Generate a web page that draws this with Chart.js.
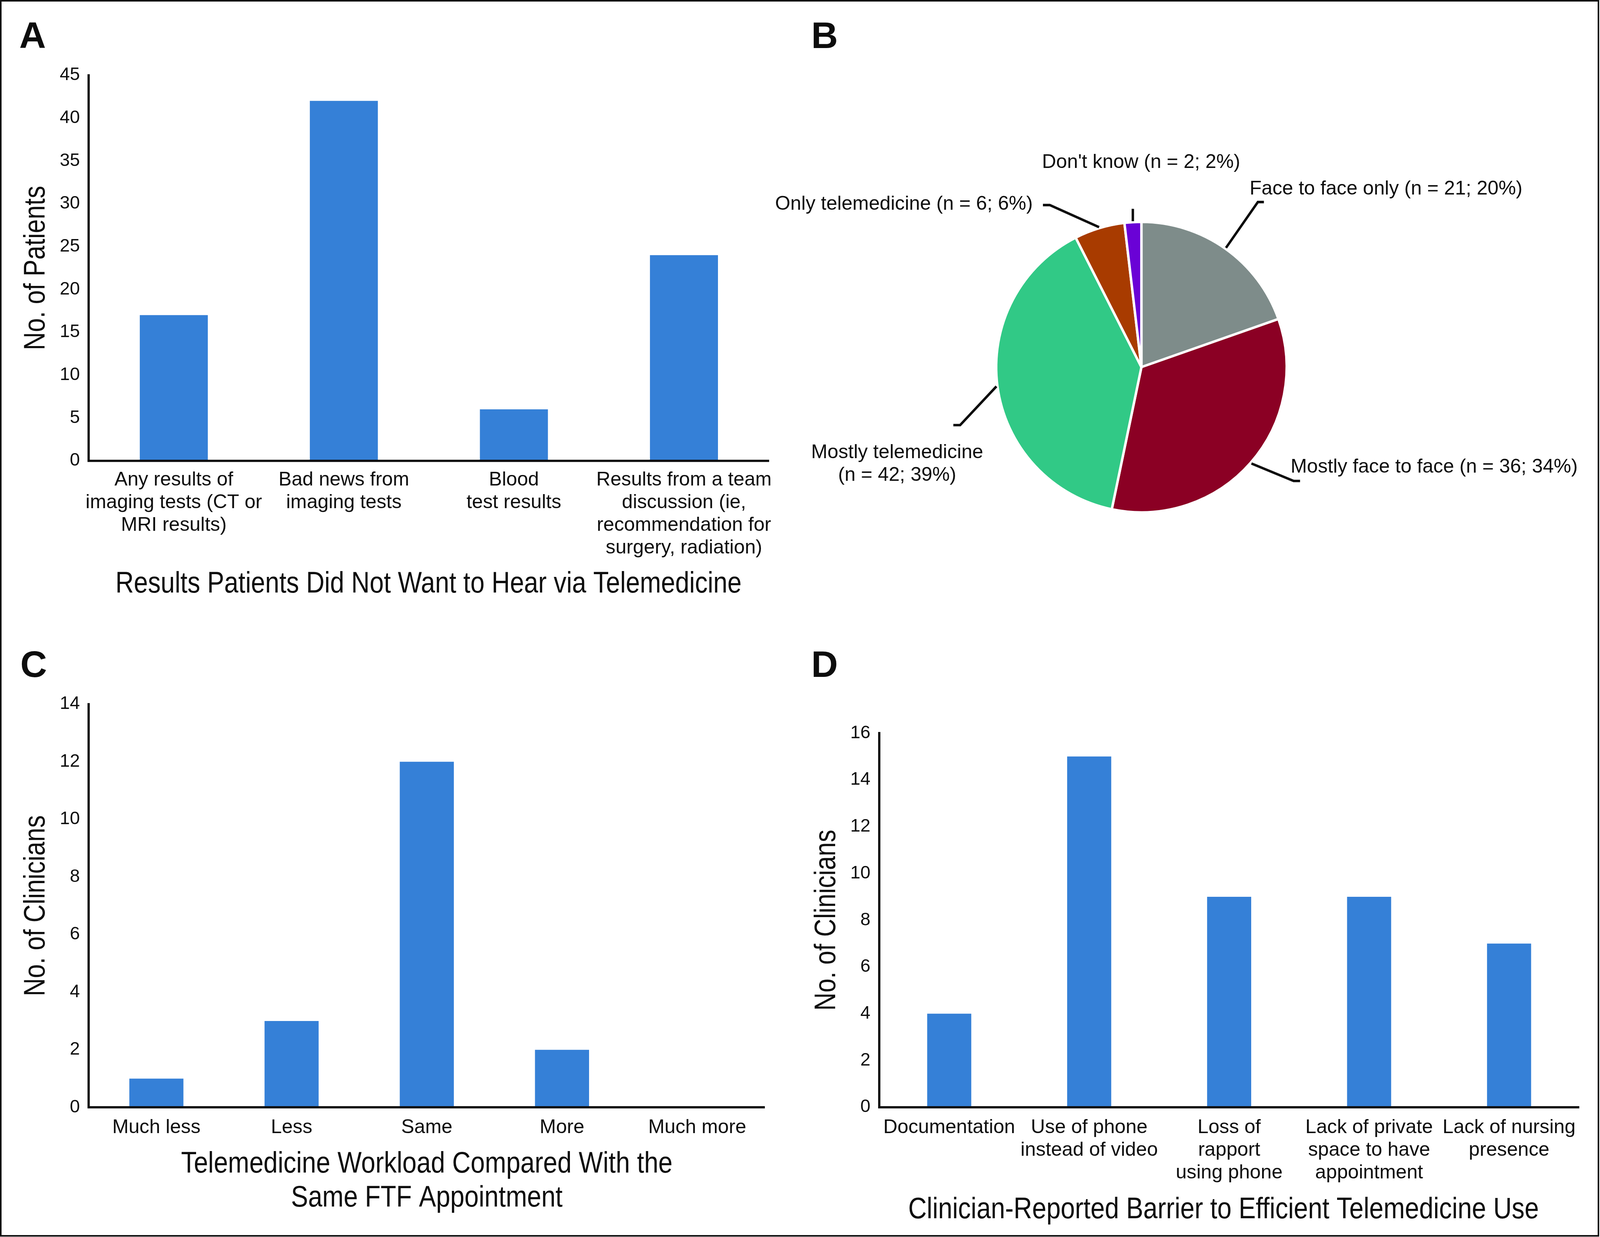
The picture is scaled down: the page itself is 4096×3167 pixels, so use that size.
<!DOCTYPE html>
<html>
<head>
<meta charset="utf-8">
<script src="https://cdn.jsdelivr.net/npm/chart.js@4.4.1/dist/chart.umd.min.js"></script>
<style>
html,body{margin:0;padding:0;background:#fff;}
body{width:4096px;height:3167px;position:relative;overflow:hidden;}
canvas{position:absolute;}
#frame{position:absolute;left:0;top:0;box-sizing:border-box;border-style:solid;border-color:#111;pointer-events:none;}
</style>
</head>
<body>
<div id="frame"></div>
<script>
// ---------------- DATA ----------------
// Panel A
const catsA = [["Any results of","imaging tests (CT or","MRI results)"],["Bad news from","imaging tests"],["Blood","test results"],["Results from a team","discussion (ie,","recommendation for","surgery, radiation)"]];
const patientsA = [17, 42, 6, 24];
const yTicksA = [0, 5, 10, 15, 20, 25, 30, 35, 40, 45];
const xTitleA = ["Results Patients Did Not Want to Hear via Telemedicine"];
const yTitleA = "No. of Patients";
// Panel B
const optionsB = ["Face to face only", "Mostly face to face", "Mostly telemedicine", "Only telemedicine", "Don't know"];
const countsB = [21, 36, 42, 6, 2];
const coloursB = ["#7e8c8a", "#8b0024", "#31c986", "#a83b00", "#6a02d6"];
// Panel C
const catsC = ["Much less", "Less", "Same", "More", "Much more"];
const cliniciansC = [1, 3, 12, 2, 0];
const yTicksC = [0, 2, 4, 6, 8, 10, 12, 14];
const xTitleC = ["Telemedicine Workload Compared With the", "Same FTF Appointment"];
const yTitleC = "No. of Clinicians";
// Panel D
const catsD = ["Documentation", ["Use of phone","instead of video"], ["Loss of","rapport","using phone"], ["Lack of private","space to have","appointment"], ["Lack of nursing","presence"]];
const cliniciansD = [4, 15, 9, 9, 7];
const yTicksD = [0, 2, 4, 6, 8, 10, 12, 14, 16];
const xTitleD = ["Clinician-Reported Barrier to Efficient Telemedicine Use"];
const yTitleD = "No. of Clinicians";

// ---------------- STYLE ----------------
const S = 0.965;
const BLUE = "#3580d7";
const INK = "#0d0d0d";
const REG = '"Liberation Sans", Arial, Helvetica, sans-serif';
const TITLE_SIZE = 78;   // reference px; text is condensed horizontally to the reference width

const frame = document.getElementById('frame');
frame.style.width = (4243 * S) + 'px';
frame.style.height = (3281 * S) + 'px';
frame.style.borderWidth = (4.5 * S) + 'px';

function addCanvas(left, top, w, h) {
  const cv = document.createElement('canvas');
  cv.width = w; cv.height = h;
  cv.style.left = left + 'px'; cv.style.top = top + 'px';
  document.body.insertBefore(cv, frame);
  return cv;
}

const letterPlugin = {
  id: 'panelLetter',
  afterDraw(chart, args, o) {
    const c = chart.ctx;
    c.save();
    c.font = `bold ${98 * S}px ${REG}`;
    c.fillStyle = INK;
    c.textAlign = 'left';
    c.textBaseline = 'alphabetic';
    c.fillText(o.text, o.x, o.y);
    c.restore();
  }
};

// Axis titles in a condensed setting (regular face squeezed horizontally)
const condTitlesPlugin = {
  id: 'condTitles',
  afterDraw(chart, args, o) {
    const c = chart.ctx, a = chart.chartArea;
    c.save();
    c.fillStyle = INK;
    c.font = `${TITLE_SIZE * S}px ${REG}`;
    c.textAlign = 'center';
    c.textBaseline = 'alphabetic';
    const cap = c.measureText('H').actualBoundingBoxAscent;
    // x title
    const sx = o.xWidth / c.measureText(o.xLines[0]).width;
    const cx = (a.left + a.right) / 2 + o.xShift;
    o.xLines.forEach((t, k) => {
      c.save();
      c.translate(cx, o.xCapMid + cap / 2 + k * o.xLH);
      c.scale(sx, 1);
      c.fillText(t, 0, 0);
      c.restore();
    });
    // y title
    const sy = o.yLength / c.measureText(o.yText).width;
    c.save();
    c.translate(o.yBase, (a.top + a.bottom) / 2);
    c.rotate(-Math.PI / 2);
    c.scale(sy, 1);
    c.fillText(o.yText, 0, 0);
    c.restore();
    c.restore();
  }
};

function makeBar(p) {
  const OX = Math.round(p.origin[0] * S), OY = Math.round(p.origin[1] * S);
  const W = Math.round(p.size[0] * S), H = Math.round(p.size[1] * S);
  const X = a => a * S - OX, Y = a => a * S - OY;
  const cv = addCanvas(OX, OY, W, H);
  const L = X(p.area.left), R = X(p.area.right), T = Y(p.area.top), B = Y(p.area.bottom);
  new Chart(cv, {
    type: 'bar',
    data: {
      labels: p.labels,
      datasets: [{ data: p.values, backgroundColor: BLUE, borderWidth: 0, barPercentage: p.barPct, categoryPercentage: 1 }]
    },
    options: {
      responsive: false, animation: false, devicePixelRatio: 1, events: [],
      layout: { padding: { left: 0, top: T, right: W - R, bottom: 0 } },
      plugins: {
        legend: { display: false }, tooltip: { enabled: false },
        panelLetter: { text: p.letter, x: X(p.letterPos[0]), y: Y(p.letterPos[1]) },
        condTitles: {
          xLines: p.xTitle, xWidth: p.xTitleW * S, xCapMid: Y(p.xTitleCap), xLH: p.xTitleLH * S, xShift: p.xShift * S,
          yText: p.yTitle, yLength: p.yTitleW * S, yBase: X(p.yTitleBase)
        }
      },
      scales: {
        x: {
          type: 'category', offset: true,
          grid: { display: false, drawTicks: false },
          border: { display: true, color: INK, width: 6 * S, z: 1 },
          ticks: { color: INK, font: { family: REG, size: 52 * S, lineHeight: 60 / 52 }, padding: (p.labelMid - p.area.bottom - 30) * S, maxRotation: 0, minRotation: 0, autoSkip: false },
          title: { display: false },
          afterFit: sc => { sc.height = H - B; }
        },
        y: {
          type: 'linear', min: p.yTicks[0], max: p.yTicks[p.yTicks.length - 1],
          grid: { display: false, drawTicks: false },
          border: { display: true, color: INK, width: 6 * S, z: 1 },
          ticks: { color: INK, font: { family: REG, size: 48 * S }, padding: 23.5 * S, autoSkip: false },
          afterBuildTicks: sc => { sc.ticks = p.yTicks.map(v => ({ value: v })); },
          title: { display: false },
          afterFit: sc => { sc.width = L; }
        }
      }
    },
    plugins: [letterPlugin, condTitlesPlugin]
  });
}

// Pie label layout: elbow in polar coords around pie centre (deg clockwise from 12 o'clock, distance),
// horizontal hook length, text offset from elbow, alignment
const pieLabelLayout = [
  { elbow: [35.2, 536], hook: 16, text: [-22, -20], align: 'left' },
  { elbow: [126.8, 504.4], hook: 17, text: [-8, -22], align: 'left' },
  { elbow: [252.25, 505], hook: -18, text: [-167, 88], align: 'center', split: true },
  { elbow: [330.5, 494], hook: -18, text: [-45, 12], align: 'right' },
  { elbow: [356.9, 420.6], hook: 0, text: [22, -108], align: 'center' }
];

const pieLabelsPlugin = {
  id: 'pieLabels',
  afterDatasetsDraw(chart) {
    const ctx = chart.ctx;
    const meta = chart.getDatasetMeta(0);
    const ds = chart.data.datasets[0];
    const total = ds.data.reduce((a, b) => a + b, 0);
    ctx.save();
    ctx.strokeStyle = INK; ctx.fillStyle = INK;
    ctx.lineWidth = 6.5 * S; ctx.lineCap = 'butt'; ctx.lineJoin = 'miter';
    ctx.font = `${52 * S}px ${REG}`;
    ctx.textBaseline = 'alphabetic';
    meta.data.forEach((arc, i) => {
      const pr = arc.getProps(['x', 'y', 'startAngle', 'endAngle', 'outerRadius'], true);
      const mid = (pr.startAngle + pr.endAngle) / 2;
      const rv = pr.outerRadius - ds.borderWidth / 2;
      const r0 = rv + 6 * S;
      const sx = pr.x + r0 * Math.cos(mid), sy = pr.y + r0 * Math.sin(mid);
      const Lo = pieLabelLayout[i];
      const ea = (Lo.elbow[0] - 90) * Math.PI / 180;
      const ex = pr.x + Lo.elbow[1] * S * Math.cos(ea), ey = pr.y + Lo.elbow[1] * S * Math.sin(ea);
      ctx.beginPath();
      ctx.moveTo(sx, sy); ctx.lineTo(ex, ey);
      if (Lo.hook) ctx.lineTo(ex + Lo.hook * S, ey);
      ctx.stroke();
      const pct = Math.round(ds.data[i] / total * 100);
      const stat = `(n = ${ds.data[i]}; ${pct}%)`;
      const lines = Lo.split ? [chart.data.labels[i], stat] : [chart.data.labels[i] + ' ' + stat];
      ctx.textAlign = Lo.align;
      lines.forEach((t, k) => ctx.fillText(t, ex + Lo.text[0] * S, ey + (Lo.text[1] + k * 60) * S));
    });
    ctx.restore();
  }
};

function makePie() {
  const origin = [1900, 0], size = [2343, 1640];
  const OX = Math.round(origin[0] * S), OY = Math.round(origin[1] * S);
  const W = Math.round(size[0] * S), H = Math.round(size[1] * S);
  const X = a => a * S - OX, Y = a => a * S - OY;
  const cv = addCanvas(OX, OY, W, H);
  const cx = X(3028), cy = Y(974), half = 500 * S;
  const bw = 6.5 * S;
  new Chart(cv, {
    type: 'pie',
    data: {
      labels: optionsB,
      datasets: [{ data: countsB, backgroundColor: coloursB, borderColor: '#ffffff', borderWidth: bw,
                   radius: 382 * S + bw / 2, hoverOffset: 0, offset: 0 }]
    },
    options: {
      responsive: false, animation: false, devicePixelRatio: 1, events: [],
      rotation: 0, circumference: 360,
      layout: { padding: { left: cx - half, right: W - (cx + half), top: cy - half, bottom: H - (cy + half) } },
      plugins: {
        legend: { display: false }, tooltip: { enabled: false },
        panelLetter: { text: 'B', x: X(2152), y: Y(127) }
      }
    },
    plugins: [letterPlugin, pieLabelsPlugin]
  });
}

makeBar({
  origin: [0, 0], size: [2121, 1640],
  area: { left: 235.5, right: 2040, top: 199.5, bottom: 1222.5 },
  labels: catsA, values: patientsA, yTicks: yTicksA, barPct: 0.4,
  labelMid: 1274, xTitle: xTitleA, xTitleW: 1661, xTitleCap: 1545, xTitleLH: 0, xShift: -1,
  yTitle: yTitleA, yTitleW: 436, yTitleBase: 118, letter: 'A', letterPos: [51, 127]
});
makePie();
makeBar({
  origin: [0, 1640], size: [2121, 1641],
  area: { left: 235.5, right: 2029, top: 1868, bottom: 2938 },
  labels: catsC, values: cliniciansC, yTicks: yTicksC, barPct: 0.4,
  labelMid: 2992, xTitle: xTitleC, xTitleW: 1304, xTitleCap: 3083, xTitleLH: 91, xShift: 0,
  yTitle: yTitleC, yTitleW: 480, yTitleBase: 118, letter: 'C', letterPos: [54, 1796]
});
makeBar({
  origin: [2121, 1640], size: [2122, 1641],
  area: { left: 2332.5, right: 4189, top: 1945, bottom: 2937.5 },
  labels: catsD, values: cliniciansD, yTicks: yTicksD, barPct: 0.315,
  labelMid: 2992, xTitle: xTitleD, xTitleW: 1673, xTitleCap: 3205, xTitleLH: 0, xShift: -15,
  yTitle: yTitleD, yTitleW: 480, yTitleBase: 2216, letter: 'D', letterPos: [2152, 1796]
});
</script>
</body>
</html>
